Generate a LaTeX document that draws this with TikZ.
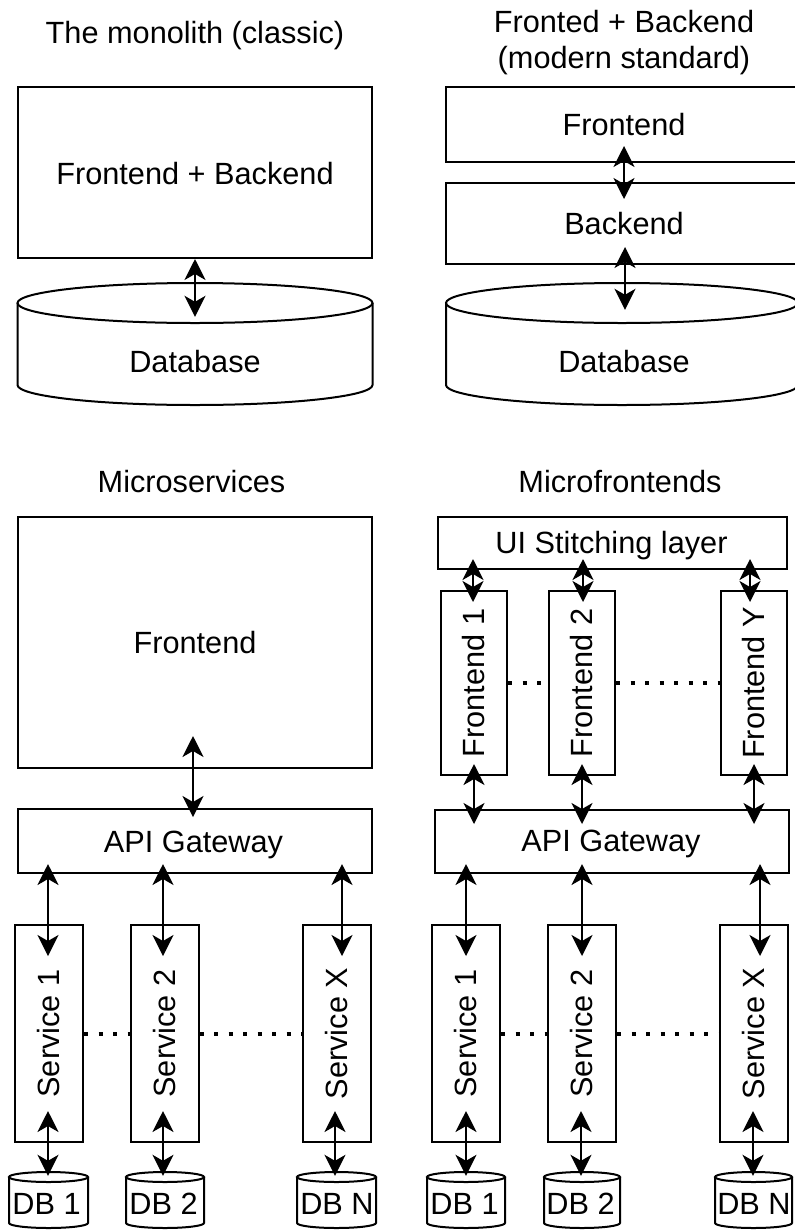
\documentclass[tikz,border=0pt]{standalone}
\usepackage{fontspec}
\setmainfont{Liberation Sans}
\usetikzlibrary{arrows.meta,calc}

\tikzset{
  box/.style={draw, line width=2pt, inner sep=0pt},
  svc/.style={box, minimum width=68pt, minimum height=217pt},
  mfe/.style={box, minimum width=66pt, minimum height=184pt},
  shell/.style={draw, line width=2pt},
  txt/.style={inner sep=0pt, anchor=base},
  vtxt/.style={inner sep=0pt, rotate=90, text height=21.8pt, text depth=0pt},
  link/.style={line width=2pt,
    {Stealth[length=21pt,width=21pt,inset=6pt]}-{Stealth[length=21pt,width=21pt,inset=6pt]}},
  gap/.style={line width=4pt, dash pattern=on 4pt off 10.5pt},
}

% database cylinder: name, centre x, top ellipse y, bottom ellipse y, x radius, y radius
\newcommand\dbcyl[6]{%
  \draw[shell] (#2-#5,#3) -- (#2-#5,#4)
    arc[start angle=180, end angle=360, x radius=#5pt, y radius=#6pt] -- (#2+#5,#3);
  \draw[shell] (#2,#3) ellipse[x radius=#5pt, y radius=#6pt];
  \node[inner sep=0pt, minimum width={2*#5pt}, minimum height={(#4-#3)*1pt}] (#1) at (#2,{(#3+#4)/2}) {};
}

\begin{document}
\begin{tikzpicture}[x=1pt, y=-1pt, font=\fontsize{30.7}{36}\selectfont]
\useasboundingbox (0,0) rectangle (795,1232);

% ---------- monolith ----------
\node[txt] (t1) at (195,43) {The monolith (classic)};
\node[box, minimum width=354pt, minimum height=171pt] (mono) at (195,172.5) {};
\node[txt] (monot) at (195,184) {Frontend + Backend};
\dbcyl{monodb}{195}{303}{385}{177.5}{20}
\node[txt] (monodbt) at (195,372) {Database};
\draw[link] (mono.south) -- ($(monodb.north)+(0,14)$);

% ---------- frontend + backend ----------
\node[txt] (t2a) at (624,32) {Fronted + Backend};
\node[txt] (t2b) at (624,68) {(modern standard)};
\node[box, minimum width=352pt, minimum height=75pt] (fe) at (622,124.5) {};
\node[txt] (fet) at (624,135) {Frontend};
\node[box, minimum width=352pt, minimum height=81pt] (be) at (622,223.5) {};
\node[txt] (bet) at (624,234) {Backend};
\dbcyl{fbdb}{622}{303}{385}{176}{20}
\node[txt] (fbdbt) at (624,372) {Database};
\draw[link] ($(fe.south)+(2,-17)$) -- ($(be.north)+(2,17)$);
\draw[link] ($(be.south)+(3,-18)$) -- ($(fbdb.north)+(3,7)$);

% ---------- microservices ----------
\node[txt] (t3) at (191.5,492) {Microservices};
\node[box, minimum width=354pt, minimum height=251pt] (msfe) at (195,642.5) {};
\node[txt] (msfet) at (195,653) {Frontend};
\node[box, minimum width=354pt, minimum height=64pt] (msgw) at (195,841) {};
\node[txt] (msgwt) at (193.5,852) {API Gateway};
\draw[link] ($(msfe.south)+(-2,-33)$) -- ($(msgw.north)+(-2,9)$);

\node[svc] (ms1) at (49,1033.5) {};
\node[vtxt] (ms1t) at (ms1) {Service 1};
\node[svc] (ms2) at (164.5,1033.5) {};
\node[vtxt] (ms2t) at (ms2) {Service 2};
\node[svc] (msx) at (336.5,1033.5) {};
\node[vtxt] (msxt) at (msx) {Service X};

\draw[gap] (ms1.east) -- (ms2.west);
\draw[gap] (ms2.east) -- (msx.west);

\draw[link] ($(msgw.south -| ms1.north)+(-1,-10)$) -- ($(ms1.north)+(-1,32)$);
\draw[link] ($(msgw.south -| ms2.north)+(-1.5,-10)$) -- ($(ms2.north)+(-1.5,32)$);
\draw[link] ($(msgw.south -| msx.north)+(5.5,-10)$) -- ($(msx.north)+(5.5,32)$);

\dbcyl{msdb1}{48.5}{1177}{1223}{39.5}{5}
\node[txt] (msdb1t) at (46.5,1214) {DB 1};
\dbcyl{msdb2}{165}{1177}{1223}{39}{5}
\node[txt] (msdb2t) at (163.5,1214) {DB 2};
\dbcyl{msdbn}{336.5}{1177}{1223}{39.5}{5}
\node[txt] (msdbnt) at (337,1214) {DB N};

\draw[link] ($(ms1.south)+(-1,-32)$) -- ($(msdb1.north -| ms1.south)+(-1,-1)$);
\draw[link] ($(ms2.south)+(-1.5,-32)$) -- ($(msdb2.north -| ms2.south)+(-1.5,-1)$);
\draw[link] ($(msx.south)+(-1.5,-32)$) -- ($(msdbn.north -| msx.south)+(-1.5,-1)$);

% ---------- microfrontends ----------
\node[txt] (t4) at (620,492) {Microfrontends};
\node[box, minimum width=349pt, minimum height=52pt] (ui) at (612.5,543) {};
\node[txt] (uit) at (611.5,553) {UI Stitching layer};

\node[mfe] (mf1) at (474,683) {};
\node[vtxt] (mf1t) at (mf1) {Frontend 1};
\node[mfe] (mf2) at (582,683) {};
\node[vtxt] (mf2t) at (mf2) {Frontend 2};
\node[mfe] (mfy) at (754,683) {};
\node[vtxt] (mfyt) at (mfy) {Frontend Y};

\draw[gap] (mf1.east) -- (mf2.west);
\draw[gap] (mf2.east) -- (mfy.west);

\draw[link] ($(ui.south -| mf1.north)+(-1,-11)$) -- ($(mf1.north)+(-1,12)$);
\draw[link] ($(ui.south -| mf2.north)+(1,-11)$) -- ($(mf2.north)+(1,12)$);
\draw[link] ($(ui.south -| mfy.north)+(-4,-11)$) -- ($(mfy.north)+(-4,12)$);

\node[box, minimum width=354pt, minimum height=63pt] (mfgw) at (612,841.5) {};
\node[txt] (mfgwt) at (611,851) {API Gateway};

\draw[link] ($(mf1.south)+(0,-12)$) -- ($(mfgw.north -| mf1.south)+(0,15)$);
\draw[link] ($(mf2.south)+(0,-12)$) -- ($(mfgw.north -| mf2.south)+(0,15)$);
\draw[link] ($(mfy.south)+(0,-12)$) -- ($(mfgw.north -| mfy.south)+(0,15)$);

\node[svc] (mfs1) at (466,1033.5) {};
\node[vtxt] (mfs1t) at (mfs1) {Service 1};
\node[svc] (mfs2) at (582,1033.5) {};
\node[vtxt] (mfs2t) at (mfs2) {Service 2};
\node[svc] (mfsx) at (754,1033.5) {};
\node[vtxt] (mfsxt) at (mfsx) {Service X};

\draw[gap] (mfs1.east) -- (mfs2.west);
\draw[gap] (mfs2.east) -- (mfsx.west);

\draw[link] ($(mfgw.south -| mfs1.north)+(0,-10)$) -- ($(mfs1.north)+(0,32)$);
\draw[link] ($(mfgw.south -| mfs2.north)+(0,-10)$) -- ($(mfs2.north)+(0,32)$);
\draw[link] ($(mfgw.south -| mfsx.north)+(6,-10)$) -- ($(mfsx.north)+(6,32)$);

\dbcyl{mfdb1}{466}{1177}{1223}{39}{5}
\node[txt] (mfdb1t) at (464.5,1214) {DB 1};
\dbcyl{mfdb2}{582}{1177}{1223}{38}{5}
\node[txt] (mfdb2t) at (580.5,1214) {DB 2};
\dbcyl{mfdbn}{753.5}{1177}{1223}{38.5}{5}
\node[txt] (mfdbnt) at (754,1214) {DB N};

\draw[link] ($(mfs1.south)+(0,-32)$) -- ($(mfdb1.north -| mfs1.south)+(0,-1)$);
\draw[link] ($(mfs2.south)+(-1,-32)$) -- ($(mfdb2.north -| mfs2.south)+(-1,-1)$);
\draw[link] ($(mfsx.south)+(-1,-32)$) -- ($(mfdbn.north -| mfsx.south)+(-1,-1)$);
\end{tikzpicture}
\end{document}
